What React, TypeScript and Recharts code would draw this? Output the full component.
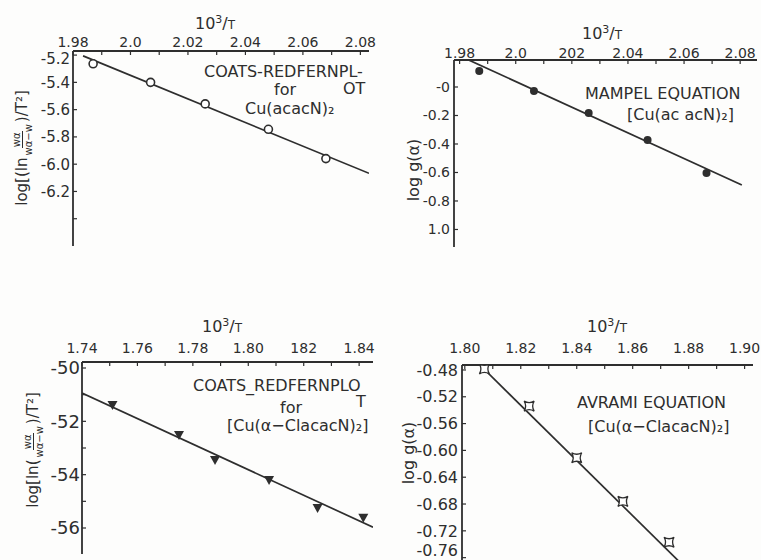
import React from 'react';
import { ComposedChart, XAxis, YAxis, Scatter, Line } from 'recharts';

// Coats-Redfern, Cu(acacN)2
const CR1_X = [1.987, 2.007, 2.026, 2.048, 2.068];
const CR1_Y = [-5.264, -5.4, -5.558, -5.744, -5.959];
const CR1_FIT_X = [1.9835, 2.083];
const CR1_FIT_Y = [-5.206, -6.067];
const CR1_XTICKS = [1.98, 2.0, 2.02, 2.04, 2.06, 2.08];
const CR1_XLABELS = ['1.98', '2.0', '2.02', '2.04', '2.06', '2.08'];
const CR1_YTICKS = [-5.2, -5.4, -5.6, -5.8, -6.0, -6.2, -6.4];
const CR1_YLABELS = ['-5.2', '-5.4', '-5.6', '-5.8', '-6.0', '-6.2', ''];

// Mampel, Cu(acacN)2
const MP_X = [1.987, 2.0065, 2.026, 2.047, 2.068];
const MP_Y = [0.112, -0.028, -0.182, -0.372, -0.604];
const MP_FIT_X = [1.9832, 2.0806];
const MP_FIT_Y = [0.19, -0.688];
const MP_XTICKS = [1.98, 2.0, 2.02, 2.04, 2.06, 2.08];
const MP_XLABELS = ['1.98', '2.0', '202', '2.04', '2.06', '2.08'];
const MP_YTICKS = [0, -0.2, -0.4, -0.6, -0.8, -1.0];
const MP_YLABELS = ['-0', '-0.2', '-0.4', '-0.6', '-0.8', '1.0'];

// Coats-Redfern, Cu(a-ClacacN)2
const CR2_X = [1.751, 1.775, 1.788, 1.8075, 1.825, 1.8415];
const CR2_Y = [-51.39, -52.51, -53.45, -54.2, -55.25, -55.62];
const CR2_FIT_X = [1.74, 1.845];
const CR2_FIT_Y = [-50.94, -55.97];
const CR2_XTICKS = [1.74, 1.76, 1.78, 1.8, 1.82, 1.84];
const CR2_XLABELS = ['1.74', '1.76', '1.78', '1.80', '182', '1.84'];
const CR2_YTICKS = [-50, -51, -52, -53, -54, -55, -56];
const CR2_YLABELS = ['-50', '', '-52', '', '-54', '', '-56'];

// Avrami, Cu(a-ClacacN)2
const AV_X = [1.807, 1.823, 1.84, 1.8565, 1.873];
const AV_Y = [-0.4785, -0.534, -0.611, -0.676, -0.737];
const AV_FIT_X = [1.8054, 1.8764];
const AV_FIT_Y = [-0.4726, -0.765];
const AV_XTICKS = [1.8, 1.82, 1.84, 1.86, 1.88, 1.9];
const AV_XLABELS = ['1.80', '1.82', '1.84', '1.86', '1.88', '1.90'];
const AV_YTICKS = [-0.48, -0.52, -0.56, -0.6, -0.64, -0.68, -0.72, -0.76];
const AV_YLABELS = ['-0.48', '-0.52', '-0.56', '-0.60', '-0.64', '-0.68', '-0.72', '-0.76'];

const INK = '#2e2e2e';
const FONT = '"DejaVu Sans", sans-serif';

const pairs = (xs: number[], ys: number[]) => xs.map((x, i) => ({ x, y: ys[i] }));
const steps = (a: number, b: number, n: number) => {
  const out: number[] = [];
  for (let i = 0; i <= n; i++) out.push(a + ((b - a) * i) / n);
  return out;
};

const OpenCircle = (p: any) => <circle cx={p.cx} cy={p.cy} r={4} fill="#fff" stroke={INK} strokeWidth={1.6} />;
const FilledCircle = (p: any) => <circle cx={p.cx} cy={p.cy} r={4} fill={INK} />;
const DownTriangle = (p: any) => (
  <path d={`M${p.cx - 5},${p.cy - 4} L${p.cx + 5},${p.cy - 4} L${p.cx},${p.cy + 5} Z`} fill={INK} />
);
const Astroid = (p: any) => {
  const { cx, cy } = p;
  return (
    <path
      d={`M${cx - 5},${cy - 5} Q${cx},${cy - 2} ${cx + 5},${cy - 5} Q${cx + 2},${cy} ${cx + 5},${cy + 5} Q${cx},${cy + 2} ${cx - 5},${cy + 5} Q${cx - 2},${cy} ${cx - 5},${cy - 5} Z`}
      fill="#fff"
      stroke={INK}
      strokeWidth={1.3}
    />
  );
};

type PanelProps = {
  left: number;
  top: number;
  width: number;
  height: number;
  box: { l: number; t: number; r: number; b: number };
  xDomain: [number, number];
  yDomain: [number, number];
  xTicks: number[];
  xLabels: string[];
  xMinor: number[];
  yTicks: number[];
  yLabels: string[];
  points: { x: number; y: number }[];
  fit: { x: number; y: number }[];
  shape: any;
  xGap: number;
  yGap: number;
  xFont: number;
  yFont: number;
  topNudge?: number;
  bottomNudge?: number;
};

function Panel(p: PanelProps) {
  const yw = 55;
  const xh = 30;
  const label = (ticks: number[], labels: string[]) => (v: number) => {
    const i = ticks.findIndex((t) => Math.abs(t - v) < 1e-6);
    return i >= 0 ? labels[i] : '';
  };
  const yFmt = label(p.yTicks, p.yLabels);
  const last = p.yTicks.length - 1;
  // end labels sit on the frame corners; shift them a touch so they stay readable
  const YTick = (t: any) => {
    const shift = t.index === 0 ? p.topNudge || 0 : t.index === last ? p.bottomNudge || 0 : 0;
    return (
      <text
        x={t.x}
        y={t.y + shift}
        dy="0.355em"
        textAnchor="end"
        fill={INK}
        fontSize={p.yFont}
        fontFamily={FONT}
      >
        {yFmt(t.payload.value)}
      </text>
    );
  };
  return (
    <div style={{ position: 'absolute', left: p.left, top: p.top }}>
      <ComposedChart
        width={p.width}
        height={p.height}
        margin={{ left: p.box.l - yw, top: p.box.t - xh, right: p.width - p.box.r, bottom: p.height - p.box.b }}
      >
        <XAxis
          xAxisId="top"
          type="number"
          dataKey="x"
          orientation="top"
          height={xh}
          domain={p.xDomain}
          allowDataOverflow
          ticks={p.xTicks}
          tickFormatter={label(p.xTicks, p.xLabels)}
          tickLine={false}
          tickSize={p.xGap}
          tickMargin={1}
          tick={{ fill: INK, fontSize: p.xFont, fontFamily: FONT }}
          axisLine={{ stroke: INK, strokeWidth: 1.8 }}
          interval={0}
        />
        <XAxis
          xAxisId="minor"
          type="number"
          dataKey="x"
          orientation="top"
          mirror
          domain={p.xDomain}
          allowDataOverflow
          ticks={p.xMinor}
          tickFormatter={() => ''}
          tickSize={4}
          tickLine={{ stroke: INK, strokeWidth: 1.2 }}
          axisLine={false}
          interval={0}
        />
        <XAxis
          xAxisId="bottom"
          type="number"
          dataKey="x"
          orientation="bottom"
          height={0}
          domain={p.xDomain}
          allowDataOverflow
          tick={false}
          axisLine={{ stroke: INK, strokeWidth: 1.8 }}
        />
        <YAxis
          yAxisId="left"
          type="number"
          width={yw}
          domain={p.yDomain}
          allowDataOverflow
          ticks={p.yTicks}
          tickLine={false}
          tickSize={p.yGap}
          tickMargin={1}
          tick={YTick}
          axisLine={{ stroke: INK, strokeWidth: 1.8 }}
          interval={0}
        />
        <YAxis
          yAxisId="minor"
          type="number"
          mirror
          domain={p.yDomain}
          allowDataOverflow
          ticks={p.yTicks}
          tickFormatter={() => ''}
          tickSize={4}
          tickLine={{ stroke: INK, strokeWidth: 1.2 }}
          axisLine={false}
          interval={0}
        />
        <YAxis
          yAxisId="right"
          type="number"
          orientation="right"
          width={0}
          domain={p.yDomain}
          allowDataOverflow
          tick={false}
          axisLine={{ stroke: INK, strokeWidth: 1.8 }}
        />
        <Line
          xAxisId="top"
          yAxisId="left"
          data={p.fit}
          dataKey="y"
          stroke={INK}
          strokeWidth={1.7}
          dot={false}
          activeDot={false}
          isAnimationActive={false}
        />
        <Scatter
          xAxisId="top"
          yAxisId="left"
          data={p.points}
          dataKey="y"
          shape={p.shape}
          isAnimationActive={false}
        />
      </ComposedChart>
    </div>
  );
}

const Note = ({ x, y, children, anchor = 'start', size = 16 }: any) => (
  <div
    style={{
      position: 'absolute',
      left: anchor === 'middle' ? x - 200 : x,
      width: anchor === 'middle' ? 400 : undefined,
      textAlign: anchor === 'middle' ? 'center' : 'left',
      top: y - 8,
      lineHeight: '16px',
      fontSize: size,
      fontFamily: FONT,
      color: INK,
      whiteSpace: 'nowrap',
    }}
  >
    {children}
  </div>
);

const VNote = ({ x, y, children, size = 15 }: any) => (
  <div
    style={{
      position: 'absolute',
      left: x - 150,
      top: y - 15,
      width: 300,
      height: 30,
      display: 'flex',
      alignItems: 'center',
      justifyContent: 'center',
      fontSize: size,
      fontFamily: FONT,
      color: INK,
      whiteSpace: 'nowrap',
      transform: 'rotate(-90deg)',
    }}
  >
    {children}
  </div>
);

const Frac = ({ top, bottom }: any) => (
  <span
    style={{
      display: 'inline-flex',
      flexDirection: 'column',
      alignItems: 'center',
      fontSize: 10,
      lineHeight: '11px',
      margin: '0 2px',
      verticalAlign: 'middle',
    }}
  >
    <span style={{ borderBottom: `1px solid ${INK}`, padding: '0 1px' }}>{top}</span>
    <span>{bottom}</span>
  </span>
);

const Inv = () => (
  <span>
    10<sup style={{ fontSize: 11 }}>3</sup>/<span style={{ fontSize: 12 }}>T</span>
  </span>
);

export default function App() {
  return (
    <div
      style={{
        position: 'absolute',
        left: 0,
        top: 0,
        width: 761,
        height: 560,
        overflow: 'hidden',
        background: '#fdfdfc',
      }}
    >
      <Panel
        left={0}
        top={0}
        width={380}
        height={280}
        box={{ l: 73, t: 51, r: 369, b: 246 }}
        xDomain={[1.98, 2.083]}
        yDomain={[-6.6, -5.17]}
        xTicks={CR1_XTICKS}
        xLabels={CR1_XLABELS}
        xMinor={steps(1.98, 2.08, 10)}
        yTicks={CR1_YTICKS}
        yLabels={CR1_YLABELS}
        points={pairs(CR1_X, CR1_Y)}
        fit={pairs(CR1_FIT_X, CR1_FIT_Y)}
        shape={OpenCircle}
        xGap={3}
        yGap={2}
        xFont={14}
        yFont={15}
        topNudge={4}
      />
      <Panel
        left={380}
        top={0}
        width={381}
        height={280}
        box={{ l: 74, t: 60, r: 377, b: 247 }}
        xDomain={[1.978, 2.086]}
        yDomain={[-1.123, 0.1895]}
        xTicks={MP_XTICKS}
        xLabels={MP_XLABELS}
        xMinor={steps(1.98, 2.08, 10)}
        yTicks={MP_YTICKS}
        yLabels={MP_YLABELS}
        points={pairs(MP_X, MP_Y)}
        fit={pairs(MP_FIT_X, MP_FIT_Y)}
        shape={FilledCircle}
        xGap={1}
        yGap={3}
        xFont={14}
        yFont={14}
      />
      <Panel
        left={0}
        top={280}
        width={380}
        height={280}
        box={{ l: 82, t: 82, r: 373, b: 274 }}
        xDomain={[1.74, 1.845]}
        yDomain={[-56.975, -49.775]}
        xTicks={CR2_XTICKS}
        xLabels={CR2_XLABELS}
        xMinor={steps(1.74, 1.84, 10)}
        yTicks={CR2_YTICKS}
        yLabels={CR2_YLABELS}
        points={pairs(CR2_X, CR2_Y)}
        fit={pairs(CR2_FIT_X, CR2_FIT_Y)}
        shape={DownTriangle}
        xGap={8}
        yGap={1}
        xFont={14}
        yFont={18}
      />
      <Panel
        left={380}
        top={280}
        width={381}
        height={285}
        box={{ l: 82, t: 85, r: 373, b: 281 }}
        xDomain={[1.799, 1.903]}
        yDomain={[-0.765, -0.4726]}
        xTicks={AV_XTICKS}
        xLabels={AV_XLABELS}
        xMinor={steps(1.8, 1.9, 10)}
        yTicks={AV_YTICKS}
        yLabels={AV_YLABELS}
        points={pairs(AV_X, AV_Y)}
        fit={pairs(AV_FIT_X, AV_FIT_Y)}
        shape={Astroid}
        xGap={11}
        yGap={3}
        xFont={14}
        yFont={16}
        bottomNudge={-7}
      />

      {/* top-left */}
      <Note x={215} y={20} anchor="middle"><Inv /></Note>
      <VNote x={22} y={148}>
        log[(ln<Frac top="wα" bottom="wα−w" />)/T²]
      </VNote>
      <Note x={204} y={72}>COATS-REDFERNPL-</Note>
      <Note x={274} y={90}>for</Note>
      <Note x={343} y={89}>OT</Note>
      <Note x={245} y={109}>Cu(acacN)₂</Note>

      {/* top-right */}
      <Note x={602} y={30} anchor="middle"><Inv /></Note>
      <VNote x={413} y={170} size={16}>log g(α)</VNote>
      <Note x={585} y={94}>MAMPEL EQUATION</Note>
      <Note x={627} y={115}>[Cu(ac acN)₂]</Note>

      {/* bottom-left */}
      <Note x={222} y={323} anchor="middle"><Inv /></Note>
      <VNote x={33} y={450}>
        log[ln(<Frac top="wα" bottom="wα−w" />)/T²]
      </VNote>
      <Note x={193} y={386}>COATS_REDFERNPLO</Note>
      <Note x={280} y={408}>for</Note>
      <Note x={356} y={402}>T</Note>
      <Note x={227} y={426}>[Cu(α−ClacacN)₂]</Note>

      {/* bottom-right */}
      <Note x={607} y={323} anchor="middle"><Inv /></Note>
      <VNote x={408} y={453} size={16}>log g(α)</VNote>
      <Note x={577} y={403}>AVRAMI EQUATION</Note>
      <Note x={588} y={427}>[Cu(α−ClacacN)₂]</Note>
    </div>
  );
}
